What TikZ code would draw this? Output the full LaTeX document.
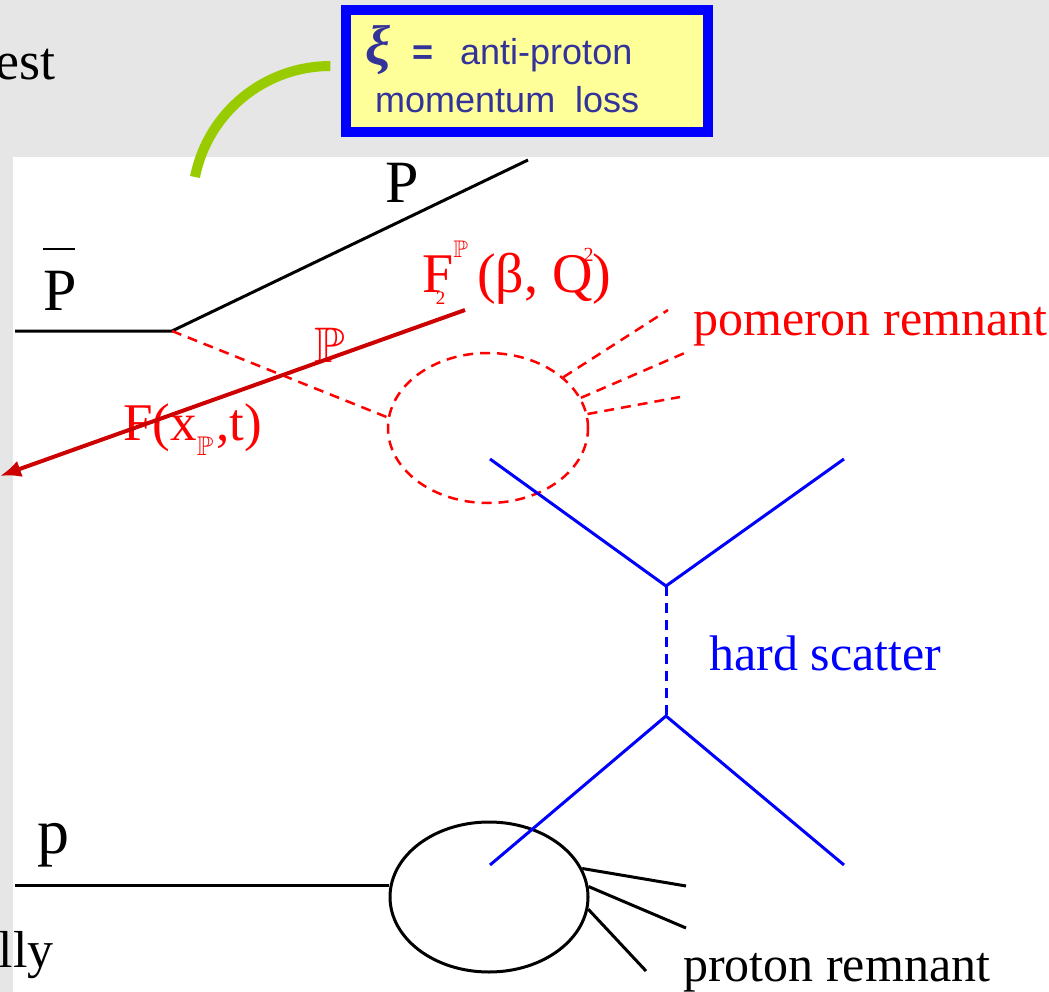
\documentclass[tikz,border=0pt]{standalone}
\usepackage{fontspec}
\usepackage{amsfonts}
\setmainfont{Liberation Serif}
\newfontfamily\notefont{Liberation Sans}
\usetikzlibrary{shapes.geometric,arrows.meta}

\definecolor{slidegray}{HTML}{E6E6E6}
\definecolor{notegreen}{HTML}{99CC00}
\definecolor{noteyellow}{HTML}{FFFF99}
\definecolor{notetext}{HTML}{333399}
\definecolor{pomred}{HTML}{CC0000}

\begin{document}
\begin{tikzpicture}[x=1pt,y=-1pt,
  beamlabel/.style={font=\fontsize{60}{60}\selectfont,inner sep=0pt,anchor=base west},
  remlabel/.style={font=\fontsize{50}{50}\selectfont,inner sep=0pt,anchor=base west},
  slidetext/.style={font=\fontsize{54}{54}\selectfont,inner sep=0pt,anchor=base east},
  beamline/.style={line width=3pt,black},
  pomline/.style={line width=2.5pt,red,dash pattern=on 10pt off 7pt},
  quarkline/.style={line width=3pt,blue},
  notetxt/.style={font=\notefont\fontsize{36}{36}\selectfont,text=notetext,inner sep=0pt,anchor=base west},
]

% slide background
\fill[slidegray] (0,0) rectangle (1049,992);
\fill[white] (13,157) rectangle (1049,992);
\useasboundingbox (0,0) rectangle (1049,992);

% cut-off slide text
\node[slidetext] (est) at (56,80) {est};
\node[slidetext,font=\fontsize{52}{52}\selectfont] (lly) at (54,967) {lly};

% anti-proton line
\coordinate (pbin) at (15,331);
\coordinate (pv) at (172,331);
\coordinate (pbout) at (528,160);
\draw[beamline] (pbin) -- (pv) -- (pbout);
\node[beamlabel] (pbarlbl) at (43,310)
  {\makebox[0pt][l]{\raisebox{60pt}{\rule{32pt}{2.5pt}}}P};
\node[beamlabel] (plbl) at (385,203) {P};

% pomeron blob and remnant
\node[ellipse,draw,pomline,minimum width=200pt,minimum height=150pt,inner sep=0pt] (blob) at (488,428) {};
\draw[pomline] (pv) -- (blob.174);
\coordinate (prem1) at (668,310);
\coordinate (prem2) at (687,352);
\coordinate (prem3) at (680,397);
\draw[pomline] (blob.34) -- (prem1);
\draw[pomline] (blob.18) -- (prem2);
\draw[pomline] (blob.8) -- (prem3);
\node[remlabel,text=red] (pomrem) at (693,335) {pomeron remnant};

% proton line and blob
\coordinate (pin) at (15,885);
\node[ellipse,draw,line width=3pt,minimum width=198pt,minimum height=150pt,inner sep=0pt] (prot) at (489,897) {};
\draw[beamline] (pin) -- (pin -| prot.west);
\coordinate (prrem1) at (686,886);
\coordinate (prrem2) at (686,928);
\coordinate (prrem3) at (646,971);
\draw[beamline] (prot.17) -- (prrem1);
\draw[beamline] (prot.6) -- (prrem2);
\draw[beamline] (prot.-7) -- (prrem3);
\node[beamlabel,font=\fontsize{64}{64}\selectfont] (plow) at (37,853) {p};
\node[remlabel] (protrem) at (683,981) {proton remnant};

% pomeron labels
\node[font=\fontsize{50}{50}\selectfont,text=red,inner sep=0pt] (pomlbl) at (330,345) {$\mathbb{P}$};
\node[beamlabel,font=\fontsize{53}{53}\selectfont,text=red] (fxlbl) at (123,440)
  {F(x\raisebox{-15pt}{\fontsize{27}{27}\selectfont$\mathbb{P}$}\kern3pt,t)};
\node[beamlabel,font=\fontsize{56}{56}\selectfont,text=red] (f2lbl) at (422,292)
  {F\llap{\raisebox{-13pt}{\fontsize{19}{19}\selectfont 2}\kern8pt}\raisebox{35pt}{\fontsize{24}{24}\selectfont$\mathbb{P}$}\kern9pt(β, Q\llap{\raisebox{31pt}{\fontsize{20}{20}\selectfont 2}\kern-1pt})};

% hard scatter
\coordinate (qtl) at (490,459);
\coordinate (qtr) at (844,459);
\coordinate (vtop) at (666,586);
\coordinate (vbot) at (666,716);
\coordinate (qbl) at (490,865);
\coordinate (qbr) at (844,865);
\draw[quarkline] (qtl) -- (vtop) -- (qtr);
\draw[quarkline,dash pattern=on 10pt off 7pt] (vtop) -- (vbot);
\draw[quarkline] (qbl) -- (vbot) -- (qbr);
\node[remlabel,text=blue] (hardlbl) at (709,670) {hard scatter};

% pomeron flux arrow
\coordinate (fluxtail) at (465,310);
\coordinate (fluxtip) at (0,476);
\draw[line width=4pt,pomred,-{Latex[length=21pt,width=17pt]}] (fluxtail) -- (fluxtip);

% callout
\coordinate (callend) at (330,66);
\draw[notegreen,line width=10pt] (195,177) coordinate (callstart) arc[start angle=168.7,end angle=90,radius=138pt];
\node[draw=blue,fill=noteyellow,line width=10pt,minimum width=362pt,minimum height=122pt,inner sep=0pt] (xibox) at (527,71) {};
\node[notetxt] (xiline) at (365,65)
  {\makebox[47pt][l]{\fontfamily{\rmdefault}\fontsize{56}{56}\selectfont\bfseries\itshape ξ}\makebox[48pt][l]{\bfseries =}anti-proton};
\node[notetxt] (lossline) at (375,113) {momentum\ \ loss};

\end{tikzpicture}
\end{document}
